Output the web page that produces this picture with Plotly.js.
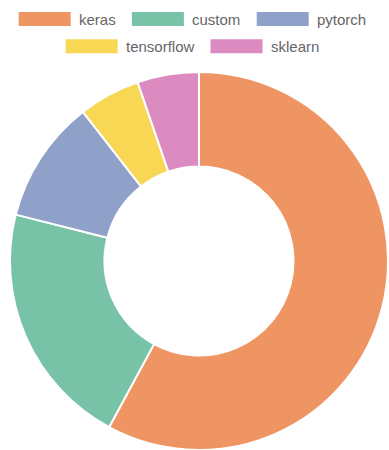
<!DOCTYPE html>
<html>
<head>
<meta charset="utf-8">
<script src="https://cdn.plot.ly/plotly-3.0.1.min.js"></script>
<style>html,body{margin:0;padding:0;background:#fff;}#chart{width:389px;height:450px;}</style>
</head>
<body>
<div id="chart"></div>
<script>
const labels = ["keras", "custom", "pytorch", "tensorflow", "sklearn"];
const values = [11, 4, 2, 1, 1];
const colors = ["#ef9563", "#78c2a7", "#8fa0c9", "#f8d755", "#dc8bc0"];

const legendRows = [[0, 1, 2], [3, 4]];
const W = 389, H = 450;
const boxW = 52, boxH = 14, gapText = 8, itemGap = 16.5, rowY = [19, 46.3], centerX = 192.3;
const fontSpec = "15px 'Liberation Sans', Arial, sans-serif";

function textWidth(t) {
  const c = document.createElement("canvas").getContext("2d");
  c.font = fontSpec;
  return c.measureText(t).width;
}

const shapes = [], annotations = [];
legendRows.forEach((row, r) => {
  const widths = row.map(i => boxW + gapText + textWidth(labels[i]));
  const total = widths.reduce((a, b) => a + b, 0) + itemGap * (row.length - 1);
  let x = centerX - total / 2;
  row.forEach((i, k) => {
    const y = rowY[r];
    shapes.push({type: "rect", xref: "paper", yref: "paper",
      x0: x / W, x1: (x + boxW) / W, y0: 1 - (y + boxH / 2) / H, y1: 1 - (y - boxH / 2) / H,
      fillcolor: colors[i], line: {width: 0}});
    annotations.push({xref: "paper", yref: "paper", x: (x + boxW + gapText - 2) / W, y: 1 - y / H,
      xanchor: "left", yanchor: "middle", showarrow: false, text: labels[i],
      font: {family: "Liberation Sans, Arial, sans-serif", size: 15, color: "#666"}});
    x += widths[k] + itemGap;
  });
});

const trace = {
  type: "pie",
  labels: labels,
  values: values,
  hole: 0.5,
  sort: false,
  direction: "clockwise",
  rotation: 0,
  textinfo: "none",
  marker: {colors: colors, line: {color: "#ffffff", width: 2}},
  domain: {x: [9 / W, 1], y: [0, (H - 72) / H]},
  showlegend: false
};

Plotly.newPlot("chart", [trace], {
  width: W, height: H,
  margin: {l: 0, r: 0, t: 0, b: 0},
  paper_bgcolor: "#fff",
  showlegend: false,
  shapes: shapes,
  annotations: annotations
}, {displayModeBar: false, staticPlot: true});
</script>
</body>
</html>
